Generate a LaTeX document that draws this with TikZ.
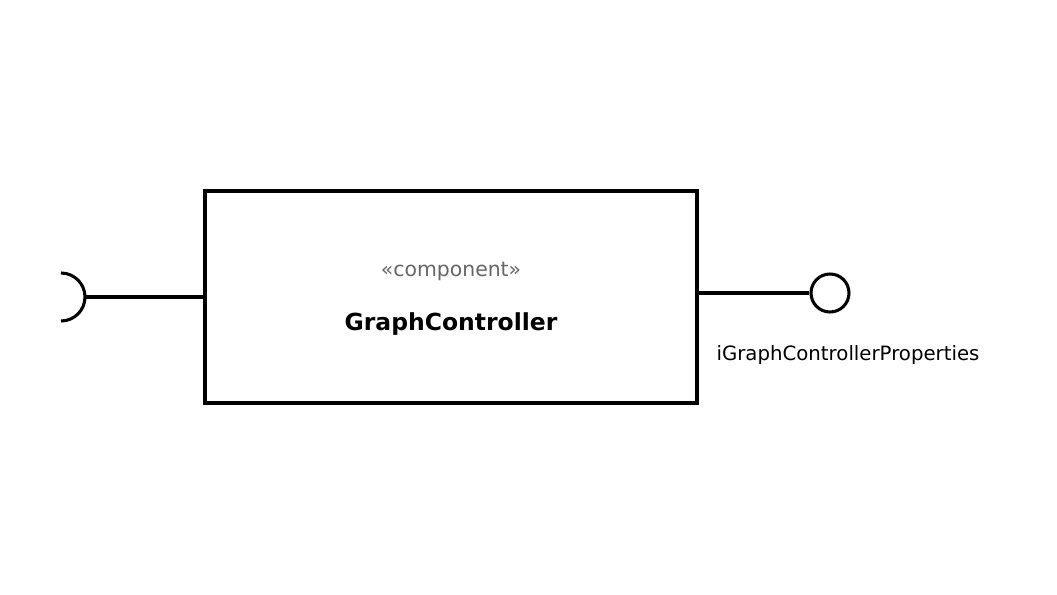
\documentclass[tikz,border=0pt]{standalone}
\usepackage{fontspec}
\setmainfont{DejaVu Sans}
\definecolor{stereo}{HTML}{666666}
\begin{document}
\begin{tikzpicture}[x=0.75pt,y=-0.75pt,
  line/.style={line width=2.3pt, black},
  comp/.style={draw, line width=2.3pt, minimum width=492*0.75pt, minimum height=212*0.75pt, inner sep=0pt},
  lbl/.style={inner sep=0pt, anchor=base}]
\useasboundingbox (0,0) rectangle (1057,595);
\node[comp] (box) at (451,297) {};
\node[lbl, text=stereo, font=\fontsize{15.3}{18}\selectfont] (st) at (451,277) {«component»};
\node[lbl, font=\fontsize{17.6}{21}\selectfont\bfseries] (name) at (451,331) {GraphController};
% required interface (socket)
\coordinate (sockr) at (85,297);
\draw[line] (sockr) -- (box.west |- sockr);
\draw[line] (61,273) arc[start angle=90, end angle=-90, radius=24*0.75pt];
% provided interface (lollipop)
\node[draw, circle, line width=2.3pt, minimum size=38*0.75pt, inner sep=0pt] (lol) at (830,293) {};
\draw[line] (box.east |- lol) -- (lol.west);
\node[lbl, font=\fontsize{14.8}{18}\selectfont] (ilbl) at (848,361) {iGraphControllerProperties};
\end{tikzpicture}
\end{document}
